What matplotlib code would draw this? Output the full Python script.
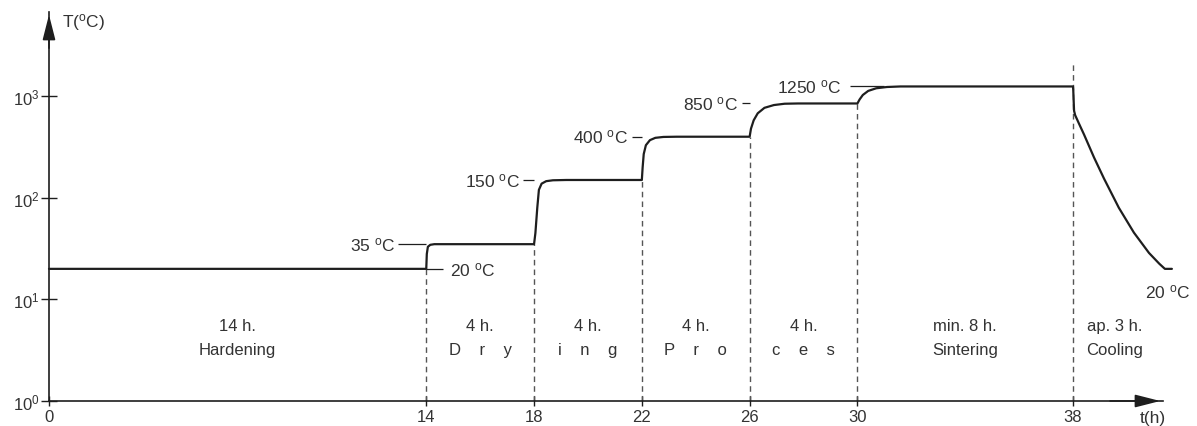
import matplotlib
matplotlib.use('Agg')
import matplotlib.pyplot as plt
import numpy as np

plt.rcParams['font.family'] = ['Liberation Sans', 'DejaVu Sans']
plt.rcParams['mathtext.fontset'] = 'custom'
plt.rcParams['mathtext.rm'] = 'Liberation Sans'
plt.rcParams['mathtext.it'] = 'Liberation Sans'

# temperature profile (hours, deg C)
hours = [0, 14, 14.02, 14.06, 14.15, 14.3,
         18, 18.05, 18.12, 18.18, 18.28, 18.45, 18.7, 19.2,
         22, 22.03, 22.07, 22.15, 22.3, 22.5, 22.8, 23.3,
         26, 26.05, 26.15, 26.3, 26.55, 26.9, 27.3, 27.8,
         30, 30.08, 30.2, 30.4, 30.7, 31.1, 31.6,
         38, 38.01, 38.025, 38.04, 38.08, 38.22, 38.41, 38.78, 39.15,
         39.7, 40.26, 40.82, 41.2, 41.41, 41.67]
temps = [20, 20, 28, 33, 34.5, 35,
         35, 45, 80, 120, 138, 146, 149, 150,
         150, 200, 270, 330, 370, 390, 398, 400,
         400, 480, 580, 680, 770, 820, 845, 850,
         850, 930, 1030, 1130, 1200, 1235, 1250,
         1250, 1150, 900, 720, 652, 540, 420, 250, 155,
         80, 45.5, 28.7, 22.5, 20, 20]

# stage boundaries and the temperature where each dashed line stops
bounds = [14, 18, 22, 26, 30, 38]
bound_top = [20, 35, 150, 400, 850, 2100]

# temperature annotations
temp_labels = ['35', '150', '400', '850', '1250']
temp_levels = [35, 150, 400, 850, 1250]
temp_text_x = [12.84, 17.48, 21.48, 25.57, 29.43]
leader_start = [12.95, 17.59, 21.63, 25.70, 29.72]
leader_end = [14.0, 18.0, 22.0, 26.0, 31.0]

# stage captions
stage_x = [7, 16, 20, 24, 28, 34, 39.55]
stage_top = ['14 h.', '4 h.', '4 h.', '4 h.', '4 h.', 'min. 8 h.', 'ap. 3 h.']
stage_bottom = ['Hardening', 'D    r    y', 'i    n    g', 'P    r    o',
                'c    e    s', 'Sintering', 'Cooling']

xticks = [0, 14, 18, 22, 26, 30, 38]
yticks = [1, 10, 100, 1000]

ink = '#1e1e1e'
txt = '#333333'

fig = plt.figure(figsize=(11.97, 4.27), dpi=100)
ax = fig.add_axes([49/1197, 25/427, (1163-49)/1197, (402-13)/427])
ax.set_yscale('log')
xmax = 41.34
ymax = 10**3.83
ax.set_xlim(0, xmax)
ax.set_ylim(1, ymax)

for s in ['top', 'right']:
    ax.spines[s].set_visible(False)
for s in ['left', 'bottom']:
    ax.spines[s].set_color(ink)
    ax.spines[s].set_linewidth(1.2)

ax.annotate('', xy=(0, 1.0), xytext=(0, 0.9), xycoords='axes fraction',
            arrowprops=dict(arrowstyle='-|>,head_length=1.1,head_width=0.28',
                            color=ink, lw=1.2, mutation_scale=14))
ax.annotate('', xy=(1.0, 0), xytext=(0.95, 0), xycoords='axes fraction',
            arrowprops=dict(arrowstyle='-|>,head_length=1.1,head_width=0.28',
                            color=ink, lw=1.2, mutation_scale=14))

ax.set_xticks(xticks)
ax.set_xticklabels([str(x) for x in xticks])
ax.set_yticks(yticks)
ax.set_yticklabels([r'$10^{%d}$' % i for i in range(4)])
ax.yaxis.set_minor_locator(matplotlib.ticker.NullLocator())
ax.tick_params(axis='y', direction='inout', length=11, width=1, colors=ink,
               labelcolor=txt, labelsize=12, pad=1)
ax.tick_params(axis='x', direction='inout', length=7, width=1, colors=ink,
               labelcolor=txt, labelsize=12, pad=2)

# dashed stage boundaries
ax.vlines(bounds, 1, bound_top, colors='#555555', linestyles=(0, (4, 3)), lw=1.0)

# leader lines
ax.hlines(temp_levels, leader_start, leader_end, colors=ink, lw=0.9)
ax.hlines(20, 14, 14.62, colors=ink, lw=0.9)

# profile
ax.plot(hours, temps, color=ink, lw=1.6, clip_on=False,
        solid_capstyle='round', solid_joinstyle='round')

for lab, lev, tx in zip(temp_labels, temp_levels, temp_text_x):
    ax.text(tx, lev, lab + r' $^{\mathrm{o}}$C', ha='right', va='center',
            fontsize=12.5, color=txt)
ax.text(14.88, 20, r'20 $^{\mathrm{o}}$C', ha='left', va='center',
        fontsize=12.5, color=txt)
ax.text(41.52, 12, r'20 $^{\mathrm{o}}$C', ha='center', va='center',
        fontsize=12.5, color=txt, clip_on=False)

for x, a, b in zip(stage_x, stage_top, stage_bottom):
    ax.text(x, 5.6, a, ha='center', va='center', fontsize=12, color=txt)
    ax.text(x, 3.2, b, ha='center', va='center', fontsize=12, color=txt)

ax.text(0.5, 10**3.74, r'T($^{\mathrm{o}}$C)', ha='left', va='center',
        fontsize=12.5, color=txt, clip_on=False)
ax.text(40.95, 0.69, 't(h)', ha='center', va='center', fontsize=12.5,
        color=txt, clip_on=False)

fig.savefig('out.png', dpi=100, facecolor='white')
